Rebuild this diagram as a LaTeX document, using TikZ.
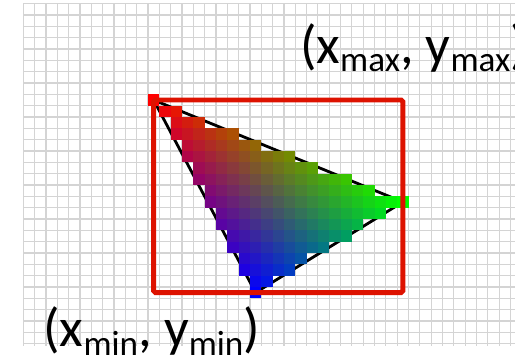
\documentclass[tikz,border=0pt]{standalone}
\usepackage{fontspec}
\setmainfont{Carlito}
\usepackage{xcolor}
\usepackage{tikz}
\definecolor{boxred}{RGB}{221,18,0}
\newcommand{\subtxt}[1]{\raisebox{-0.16em}{\fontsize{20}{22}\selectfont #1}}
\tikzset{
  gridln/.style={draw=black!17,line width=0.7pt},
  bbox/.style={draw=boxred,line width=2.8pt,rounded corners=1pt},
  lbl/.style={inner sep=0pt,font=\fontsize{31}{36}\selectfont}
}
\begin{document}
\begin{tikzpicture}[x=0.2266cm,y=-0.2266cm]
\useasboundingbox (-2.057,-0.327) rectangle (43.40,31.80);
\foreach \i in {0,...,43} \draw[gridln] (\i,0)--(\i,30.2);
\foreach \j in {0,...,30} \draw[gridln] (0,\j)--(43.4,\j);
\coordinate (A) at (11.5,8.5);
\coordinate (B) at (33.5,17.5);
\coordinate (C) at (20.5,25.5);
\draw[black,line width=1.6pt,line join=round] (A)--(B)--(C)--cycle;
\foreach \i in {11,...,33}{
  \foreach \j in {8,...,25}{
    \pgfmathtruncatemacro\wa{-8*(\i-20)-13*(\j-25)}
    \pgfmathtruncatemacro\wb{17*(\i-20)-9*(\j-25)}
    \pgfmathtruncatemacro\wc{293-\wa-\wb}
    \ifnum\wa<0 \else\ifnum\wb<0 \else\ifnum\wc<0 \else
      \pgfmathsetmacro\ra{\wa/293}
      \pgfmathsetmacro\rb{\wb/293}
      \pgfmathsetmacro\rc{\wc/293}
      \definecolor{pixcol}{rgb}{\ra,\rb,\rc}
      \fill[pixcol] (\i,\j) rectangle +(1,1);
    \fi\fi\fi
  }
}
\draw[bbox] (A) rectangle (B |- C);
\node[lbl,anchor=base west] (maxlbl) at (24.4,5.25) {(x\subtxt{max}, y\subtxt{max})};
\node[lbl,anchor=base west] (minlbl) at (1.75,30.3) {(x\subtxt{min}, y\subtxt{min})};
\end{tikzpicture}
\end{document}
